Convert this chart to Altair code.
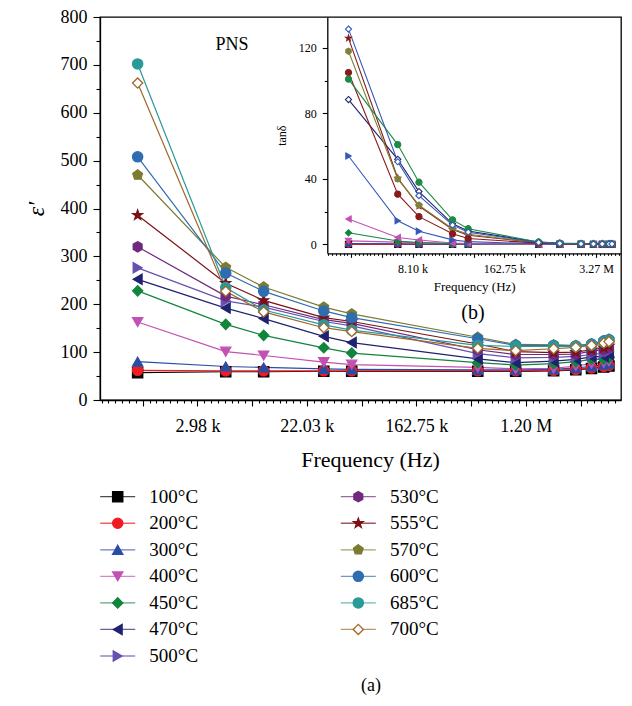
import math
import altair as alt
import pandas as pd

E = math.e

# ---------------- data ----------------
FREQ_HZ = [1e3, 5e3, 1e4, 3e4, 5e4, 5e5, 1e6, 2e6, 3e6, 4e6, 5e6, 5.5e6]
TEMPS = ["100°C", "200°C", "300°C", "400°C", "450°C", "470°C", "500°C",
         "530°C", "555°C", "570°C", "600°C", "685°C", "700°C"]

# main panel: dielectric constant (epsilon')
EPS_100 = [57, 59, 59, 60, 60, 60, 60, 61, 63, 66, 69, 71]
EPS_200 = [62, 61, 61, 61, 61, 61, 61, 62, 64, 67, 70, 72]
EPS_300 = [80, 70, 68, 65, 64, 63, 63, 64, 67, 70, 74, 76]
EPS_400 = [163, 101, 93, 79, 74, 68, 65, 66, 71, 76, 78, 81]
EPS_450 = [228, 158, 135, 109, 98, 78, 73, 76, 80, 85, 85, 88]
EPS_470 = [252, 192, 170, 133, 120, 86, 78, 81, 85, 90, 91, 95]
EPS_500 = [276, 207, 194, 164, 155, 97, 88, 89, 91, 95, 98, 102]
EPS_530 = [320, 217, 199, 168, 160, 105, 95, 95, 96, 102, 105, 109]
EPS_555 = [386, 244, 208, 172, 164, 117, 101, 99, 100, 105, 109, 113]
EPS_570 = [470, 277, 236, 194, 180, 131, 116, 115, 114, 117, 124, 127]
EPS_600 = [508, 265, 227, 186, 172, 128, 114, 114, 113, 117, 123, 126]
EPS_685 = [702, 235, 188, 157, 146, 114, 112, 112, 112, 115, 121, 124]
EPS_700 = [662, 227, 184, 151, 143, 108, 103, 107, 110, 114, 119, 122]
EPS = [EPS_100, EPS_200, EPS_300, EPS_400, EPS_450, EPS_470, EPS_500,
       EPS_530, EPS_555, EPS_570, EPS_600, EPS_685, EPS_700]

# inset: loss tangent
TAN_100 = [0.1, 0.1, 0.1, 0.1, 0.1, 0.1, 0.1, 0.1, 0.1, 0.1, 0.1, 0.1]
TAN_200 = [0.2, 0.1, 0.1, 0.1, 0.1, 0.1, 0.1, 0.1, 0.1, 0.1, 0.1, 0.1]
TAN_300 = [0.6, 0.4, 0.3, 0.2, 0.1, 0.1, 0.1, 0.1, 0.1, 0.1, 0.1, 0.1]
TAN_400 = [2.2, 1.4, 1.0, 0.5, 0.3, 0.1, 0.1, 0.1, 0.1, 0.1, 0.1, 0.1]
TAN_450 = [7.1, 2.1, 1.2, 0.5, 0.4, 0.1, 0.1, 0.1, 0.1, 0.1, 0.1, 0.1]
TAN_470 = [15.5, 4.2, 2.7, 0.9, 0.6, 0.2, 0.1, 0.1, 0.1, 0.1, 0.1, 0.1]
TAN_500 = [54, 14.5, 8.1, 2.8, 1.7, 0.4, 0.2, 0.2, 0.1, 0.1, 0.1, 0.1]
TAN_530 = [88.5, 52, 32.3, 12.6, 8.2, 1.4, 0.7, 0.5, 0.4, 0.3, 0.3, 0.3]
TAN_555 = [126, 40.5, 23.5, 9.2, 5.6, 1.0, 0.5, 0.3, 0.3, 0.2, 0.2, 0.2]
TAN_570 = [118, 40, 24, 9.6, 6.2, 1.1, 0.5, 0.4, 0.3, 0.3, 0.3, 0.3]
TAN_600 = [105, 30.7, 17, 6.5, 3.6, 0.8, 0.4, 0.3, 0.2, 0.2, 0.2, 0.2]
TAN_685 = [101, 61, 38, 15, 9.6, 1.5, 0.8, 0.5, 0.4, 0.3, 0.3, 0.3]
TAN_700 = [131.5, 50.5, 29.8, 11.8, 7.5, 1.2, 0.6, 0.4, 0.3, 0.3, 0.3, 0.3]
TAN = [TAN_100, TAN_200, TAN_300, TAN_400, TAN_450, TAN_470, TAN_500,
       TAN_530, TAN_555, TAN_570, TAN_600, TAN_685, TAN_700]

# ---------------- styles ----------------
HEX = "M0,-1L0.866,-0.5L0.866,0.5L0,1L-0.866,0.5L-0.866,-0.5Z"
STAR = ("M0,-1L0.235,-0.324L0.951,-0.309L0.380,0.124L0.588,0.809L0,0.4"
        "L-0.588,0.809L-0.380,0.124L-0.951,-0.309L-0.235,-0.324Z")
PENT = "M0,-1L0.951,-0.309L0.588,0.809L-0.588,0.809L-0.951,-0.309Z"

MAIN_COLORS = ["#000000", "#ee1d23", "#2b4ca3", "#c251b3", "#12853c", "#1f2270",
               "#6650b0", "#6f2a7d", "#7b1015", "#7c7b30", "#2e6db0", "#2a9a98", "#a2672b"]
MAIN_SHAPES = ["square", "circle", "triangle-up", "triangle-down", "diamond",
               "triangle-left", "triangle-right", HEX, STAR, PENT, "circle", "circle", "diamond"]
MAIN_FILLS = MAIN_COLORS[:-1] + ["#ffffff"]

INSET_COLORS = ["#000000", "#ee1d23", "#2b4ca3", "#c251b3", "#12853c", "#c251b3",
                "#3358b8", "#1f2270", "#8a1a1a", "#80803a", "#8a1a1a", "#1e8a45", "#3358b8"]
INSET_SHAPES = ["square", "circle", "triangle-up", "triangle-down", "diamond",
                "triangle-left", "triangle-right", "diamond", STAR, HEX, "circle", "circle", "diamond"]
INSET_FILLS = ["#000000", "#ee1d23", "#2b4ca3", "#c251b3", "#12853c", "#c251b3",
               "#3358b8", "#ffffff", "#8a1a1a", "#80803a", "#8a1a1a", "#1e8a45", "#ffffff"]

FONT = "Liberation Serif"

# ---------------- tables ----------------
main_df = pd.DataFrame([
    {"temp": t, "freq": f, "eps": v}
    for t, vals in zip(TEMPS, EPS) for f, v in zip(FREQ_HZ, vals)
])
inset_df = pd.DataFrame([
    {"temp": t, "freq": f, "tan": v}
    for t, vals in zip(TEMPS, TAN) for f, v in zip(FREQ_HZ, vals)
])
leg_df = pd.DataFrame([
    {"temp": t, "col": 0 if i < 7 else 1, "row": i if i < 7 else i - 7}
    for i, t in enumerate(TEMPS)
])

# ---------------- axes helpers ----------------
MAIN_LN = (6.22, 15.74)
INSET_LN = (6.215, 15.815)


def log_ticks(lo, hi, n=8):
    vals = []
    for k in range(int(math.floor(lo)), int(math.ceil(hi)) + 1):
        for j in range(n):
            u = k + j / n
            if lo <= u <= hi:
                vals.append(math.exp(u))
    return vals


MAJOR = "abs(log(datum.value) - round(log(datum.value))) < 0.001"
FMT = ("(datum.value < 1e6 ? format(datum.value / 1000, '.2f') + ' k' "
       ": format(datum.value / 1e6, '.2f') + ' M')")


def every(n):
    return f"abs(log(datum.value) / {n} - round(log(datum.value) / {n})) < 0.001"


TOP = 9
W, H = 521, 383

# ---------------- main panel ----------------
mx = alt.X("freq:Q",
           scale=alt.Scale(type="log", base=E, domain=[math.exp(MAIN_LN[0]), math.exp(MAIN_LN[1])], nice=False),
           axis=alt.Axis(values=log_ticks(*MAIN_LN), labelExpr=f"{every(2)} ? {FMT} : ''",
                         tickSize={"condition": {"test": MAJOR, "value": 6}, "value": 3},
                         labelOverlap=False, labelFlush=False, labelFontSize=18, labelPadding=11,
                         title="Frequency (Hz)", titleFontSize=22, titlePadding=14, titleX=270,
                         grid=False))
my = alt.Y("eps:Q",
           scale=alt.Scale(domain=[0, 800], nice=False),
           axis=alt.Axis(values=list(range(0, 801, 50)),
                         labelExpr="datum.value % 100 == 0 ? datum.label : ''",
                         tickSize={"condition": {"test": "datum.value % 100 == 0", "value": 7}, "value": 4},
                         labelOverlap=False, labelFontSize=18, labelPadding=6,
                         title="ε′", titleFontSize=24, titleFontStyle="italic", titlePadding=12,
                         grid=False))

main_lines = alt.Chart(main_df).mark_line(strokeWidth=1.2).encode(
    x=mx, y=my,
    color=alt.Color("temp:N", scale=alt.Scale(domain=TEMPS, range=MAIN_COLORS), legend=None),
)
main_pts = alt.Chart(main_df).mark_point(filled=True, size=105, strokeWidth=1.3, opacity=1).encode(
    x=mx, y=my,
    shape=alt.Shape("temp:N", scale=alt.Scale(domain=TEMPS, range=MAIN_SHAPES), legend=None),
    fill=alt.Fill("temp:N", scale=alt.Scale(domain=TEMPS, range=MAIN_FILLS), legend=None),
    stroke=alt.Stroke("temp:N", scale=alt.Scale(domain=TEMPS, range=MAIN_COLORS), legend=None),
)
main = alt.layer(main_lines, main_pts)

# ---------------- inset panel ----------------
INSET_BOTTOM = 253.3 - 8 - TOP
ix = alt.X("freq:Q",
           scale=alt.Scale(type="log", base=E, domain=[math.exp(INSET_LN[0]), math.exp(INSET_LN[1])],
                           range=[227.3, W], nice=False),
           axis=alt.Axis(orient="bottom", offset=INSET_BOTTOM - H, values=log_ticks(*INSET_LN),
                         labelExpr=f"{every(3)} ? {FMT} : ''",
                         tickSize={"condition": {"test": MAJOR, "value": 4}, "value": 2},
                         labelOverlap=False, labelFlush=False, labelFontSize=12, labelPadding=6,
                         title="Frequency (Hz)", titleFontSize=13, titlePadding=6, grid=False))
iy = alt.Y("tan:Q",
           scale=alt.Scale(domain=[-5.4, 138.9], range=[INSET_BOTTOM, 0], nice=False, zero=False),
           axis=alt.Axis(orient="left", offset=-227.3, values=list(range(0, 140, 20)),
                         labelExpr="datum.value % 40 == 0 ? datum.label : ''",
                         tickSize={"condition": {"test": "datum.value % 40 == 0", "value": 5}, "value": 3},
                         labelOverlap=False, labelFontSize=12, labelPadding=6,
                         title="tanδ", titleFontSize=12, titlePadding=10, grid=False))

inset_lines = alt.Chart(inset_df).mark_line(strokeWidth=1.1).encode(
    x=ix, y=iy,
    color=alt.Color("temp:N", scale=alt.Scale(domain=TEMPS, range=INSET_COLORS), legend=None),
)
inset_pts = alt.Chart(inset_df).mark_point(filled=True, size=38, strokeWidth=1.1, opacity=1).encode(
    x=ix, y=iy,
    shape=alt.Shape("temp:N", scale=alt.Scale(domain=TEMPS, range=INSET_SHAPES), legend=None),
    fill=alt.Fill("temp:N", scale=alt.Scale(domain=TEMPS, range=INSET_FILLS), legend=None),
    stroke=alt.Stroke("temp:N", scale=alt.Scale(domain=TEMPS, range=INSET_COLORS), legend=None),
)
inset = alt.layer(inset_lines, inset_pts)

# ---------------- legend (below the plot) ----------------
lx = alt.X("col:Q", scale=alt.Scale(domain=[0, 1], range=[17.7, 258.3]), axis=None)
ly = alt.Y("row:Q", scale=alt.Scale(domain=[0, 6], range=[496.7 - 8 - TOP, 656 - 8 - TOP]), axis=None)
leg_line = alt.Chart(leg_df).mark_tick(orient="horizontal", size=35, thickness=1.3).encode(
    x=lx, y=ly,
    color=alt.Color("temp:N", scale=alt.Scale(domain=TEMPS, range=MAIN_COLORS), legend=None),
)
leg_pts = alt.Chart(leg_df).mark_point(filled=True, size=105, strokeWidth=1.3, opacity=1).encode(
    x=lx, y=ly,
    shape=alt.Shape("temp:N", scale=alt.Scale(domain=TEMPS, range=MAIN_SHAPES), legend=None),
    fill=alt.Fill("temp:N", scale=alt.Scale(domain=TEMPS, range=MAIN_FILLS), legend=None),
    stroke=alt.Stroke("temp:N", scale=alt.Scale(domain=TEMPS, range=MAIN_COLORS), legend=None),
)
leg_txt = alt.Chart(leg_df).mark_text(align="left", baseline="middle", dx=31.6, fontSize=19,
                                      font=FONT, color="black").encode(x=lx, y=ly, text="temp:N")
legend = alt.layer(leg_line, leg_pts, leg_txt)

# ---------------- annotations ----------------
def label(txt, x, y, size):
    return alt.Chart(pd.DataFrame({"t": [txt]})).mark_text(
        align="center", baseline="middle", fontSize=size, font=FONT, color="black"
    ).encode(x=alt.value(x), y=alt.value(y), text="t:N")


pns = label("PNS", 132, 45 - 8 - TOP, 18)
lab_b = label("(b)", 373, 313 - 8 - TOP, 20)
lab_a = label("(a)", 271, 686 - 8 - TOP, 18)

chart = alt.layer(main, inset, legend, pns, lab_b, lab_a).resolve_scale(
    x="independent", y="independent", color="independent",
    shape="independent", fill="independent", stroke="independent",
).properties(
    width=W, height=H,
    padding={"left": 92, "top": TOP, "right": 3, "bottom": 697 - 8 - TOP - H},
    autosize=alt.AutoSizeParams(type="none"),
).configure(font=FONT).configure_view(
    stroke="black", strokeWidth=1.3
).configure_axis(
    labelFont=FONT, titleFont=FONT, labelColor="black", titleColor="black",
    domainColor="black", tickColor="black", titleFontWeight="normal",
    domainWidth=1.3, tickWidth=1.1,
)

chart.save("out.html", embed_options={"renderer": "svg", "actions": False})
